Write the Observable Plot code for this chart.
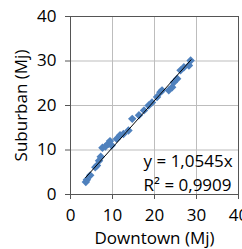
<!DOCTYPE html>
<html><head><meta charset="utf-8">
<script src="https://cdn.jsdelivr.net/npm/d3@7"></script>
<script src="https://cdn.jsdelivr.net/npm/@observablehq/plot@0.6"></script>
<style>
html,body{margin:0;padding:0;background:#fff;}
</style>
</head><body>
<div id="chart"></div>
<script>
const downtown = [3.65,3.9,4.7,5.9,6.3,6.8,7.2,7.6,8.3,9.0,9.4,9.8,11.0,11.8,12.6,13.8,14.7,16.3,17.5,18.6,19.4,20.6,21.4,21.8,23.4,24.2,24.6,25.4,26.2,27.0,28.2,28.6];
const suburban = [2.8,3.3,4.3,6.1,6.5,7.6,8.5,10.5,10.8,11.4,12.0,11.0,12.5,13.3,13.6,14.4,17.0,17.8,18.9,20.0,20.7,21.9,23.0,23.4,23.4,24.1,25.2,26.0,27.9,28.6,29.0,30.1];
const xTicks = [0,10,20,30,40];
const yTicks = [0,10,20,30,40];
const slope = 1.0545;
const trendX = [3.6, 28.7];
const eqLabels = ["y = 1,0545x", "R² = 0,9909"];

const points = downtown.map((d,i)=>({x:d, y:suburban[i]}));
const trend = trendX.map(x=>({x, y: slope*x}));
const font = "'Open Sans', sans-serif";

const chart = Plot.plot({
  width: 242, height: 249,
  marginLeft: 70, marginTop: 16, marginBottom: 55, marginRight: 4,
  style: {fontFamily: font, fontSize: "16px", color: "#000", background: "#fff"},
  x: {domain: [0,40], ticks: xTicks},
  y: {domain: [0,40], ticks: yTicks},
  marks: [
    Plot.gridX(xTicks, {stroke: "#bdbdbd", strokeOpacity: 1}),
    Plot.gridY(yTicks, {stroke: "#bdbdbd", strokeOpacity: 1}),
    Plot.frame({stroke: "#555"}),
    Plot.axisX(xTicks, {tickSize: 5, tickPadding: 9, stroke: "#555", fill: "#000", fontSize: 17, label: "Downtown (Mj)", labelAnchor: "center", labelArrow: "none", labelOffset: 49}),
    Plot.axisY(yTicks, {tickSize: 5, tickPadding: 9, stroke: "#555", fill: "#000", fontSize: 17, label: "Suburban (Mj)", labelAnchor: "center", labelArrow: "none", labelOffset: 56}),
    Plot.dot(points, {x:"x", y:"y", symbol: "diamond2", r: 3.8, fill: "#4f81bd", stroke: "none"}),
    Plot.line(trend, {x:"x", y:"y", stroke: "#000", strokeWidth: 1}),
    Plot.text(eqLabels, {x: 17.4, y: (d,i)=> i===0 ? 7.4 : 2.1, text: d=>d, textAnchor: "start", fontSize: 17, fill: "#000"})
  ]
});
document.getElementById("chart").appendChild(chart);
</script>
</body></html>
